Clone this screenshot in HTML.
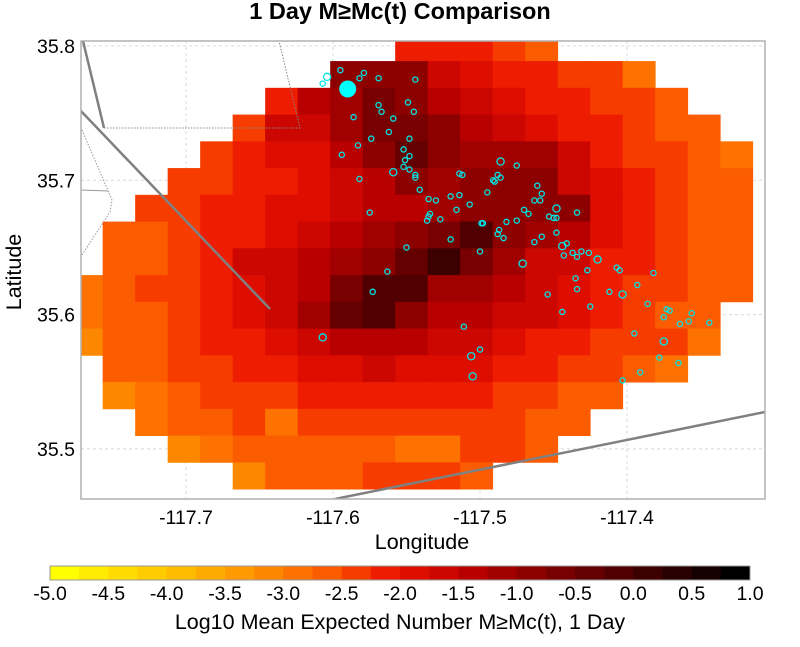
<!DOCTYPE html>
<html><head><meta charset="utf-8">
<style>
html,body{margin:0;padding:0;background:#fff;}
svg{display:block;font-family:"Liberation Sans",Arial,sans-serif;}
</style></head>
<body>
<svg id="chart" width="800" height="647" viewBox="0 0 800 647" xmlns="http://www.w3.org/2000/svg">
<defs><clipPath id="plotclip"><rect x="81" y="41" width="684" height="458"/></clipPath></defs>
<text x="400" y="19" text-anchor="middle" font-size="23.5" font-weight="bold">1 Day M≥Mc(t) Comparison</text>
<g id="grid"></g>
<g id="heat" clip-path="url(#plotclip)"></g>
<g id="faults" clip-path="url(#plotclip)">
<polyline points="83,41 104,128" fill="none" stroke="#808080" stroke-width="2.5"/>
<polyline points="104,128 300,128 279,41" fill="none" stroke="#888" stroke-width="1" stroke-dasharray="1.5,1.5"/>
<polyline points="80,110 270,309" fill="none" stroke="#808080" stroke-width="2.5"/>
<polyline points="80,190 108,191" fill="none" stroke="#999" stroke-width="1"/>
<polyline points="82,130 112,200 110,212 80,258" fill="none" stroke="#999" stroke-width="1" stroke-dasharray="1.5,1.5"/>
<polyline points="335,499 765,412" fill="none" stroke="#808080" stroke-width="2.5"/>
</g>
<g id="quakes" clip-path="url(#plotclip)"></g>
<rect x="81" y="41" width="684" height="458" fill="none" stroke="#b0b0b0" stroke-width="1.5"/>
<g id="axes"></g>
<text x="422" y="549" text-anchor="middle" font-size="21.5">Longitude</text>
<text transform="translate(21,272) rotate(-90)" text-anchor="middle" font-size="21.5">Latitude</text>
<g id="cbar"></g>
<text x="400" y="629" text-anchor="middle" font-size="21.5">Log10 Mean Expected Number M≥Mc(t), 1 Day</text>
</svg>
<script>
const xTicks = [-117.7, -117.6, -117.5, -117.4];
const yTicks = [35.5, 35.6, 35.7, 35.8];
const cbarTicks = [-5.0,-4.5,-4.0,-3.5,-3.0,-2.5,-2.0,-1.5,-1.0,-0.5,0.0,0.5,1.0];
const cbarColors = ["#ffff00","#ffec00","#ffdc00","#ffcc00","#ffbb00","#ffaa00","#ff9a00","#fd8800","#fd7200","#fb5c00","#f73c00","#ee1c00","#dd0d00","#cc0600","#b80000","#a00000","#8c0000","#780000","#640000","#500000","#3c0000","#280000","#140000","#000000"];
const cellLon0 = -117.7788, cellDLon = 0.02211, cellLat0 = 35.8087, cellDLat = 0.01992;
const rowStart = [10,8,6,5,4,3,2,1,1,0,0,0,1,1,2,3,5];
const row0 = [-2.15,-2.15,-2.15,-2.4,-2.65];
const row1 = [-0.9,-0.9,-0.9,-1.65,-1.9,-2.15,-2.15,-2.4,-2.4,-2.9];
const row2 = [-2.15,-1.4,-1.15,-0.65,-0.9,-1.4,-1.65,-1.9,-2.15,-2.15,-2.4,-2.4,-2.65];
const row3 = [-2.4,-1.65,-1.65,-1.15,-0.65,-0.65,-0.9,-1.4,-1.65,-1.9,-2.15,-2.15,-2.4,-2.65,-2.65];
const row4 = [-2.4,-2.15,-1.9,-1.9,-1.4,-0.9,-0.4,-0.9,-1.15,-1.15,-1.15,-1.65,-2.15,-2.4,-2.4,-2.65,-2.9];
const row5 = [-2.4,-2.4,-2.15,-2.15,-1.9,-1.65,-1.4,-0.9,-1.15,-0.9,-0.9,-0.9,-1.65,-1.9,-2.15,-2.4,-2.65,-2.65];
const row6 = [-2.4,-2.4,-2.15,-2.15,-1.9,-1.9,-1.65,-1.4,-1.4,-1.15,-0.9,-0.9,-0.9,-0.9,-1.9,-2.15,-2.4,-2.65,-2.65];
const row7 = [-2.65,-2.65,-2.4,-2.15,-2.15,-1.9,-1.65,-1.4,-1.15,-0.9,-0.65,-0.15,-0.9,-1.15,-1.4,-1.9,-2.15,-2.4,-2.65,-2.65];
const row8 = [-2.65,-2.65,-2.4,-2.15,-1.65,-1.65,-1.4,-1.15,-0.9,-0.4,0.1,-0.65,-1.15,-1.65,-1.65,-2.15,-2.15,-2.4,-2.65,-2.65];
const row9 = [-2.9,-2.65,-2.4,-2.4,-2.15,-1.9,-1.65,-1.4,-0.65,-0.15,-0.15,-1.15,-1.15,-1.4,-1.65,-1.9,-2.15,-2.4,-2.4,-2.65,-2.65];
const row10 = [-2.9,-2.65,-2.65,-2.4,-2.15,-1.9,-1.65,-1.15,-0.4,-0.15,-0.9,-1.4,-1.4,-1.65,-1.65,-1.9,-2.15,-2.4,-2.65,-2.65];
const row11 = [-3.15,-2.65,-2.65,-2.4,-2.15,-2.15,-1.9,-1.65,-1.4,-1.4,-1.4,-1.65,-1.65,-1.9,-2.15,-2.15,-2.4,-2.4,-2.4,-2.9];
const row12 = [-2.65,-2.65,-2.4,-2.4,-2.15,-2.15,-1.9,-1.9,-1.65,-1.9,-1.9,-1.9,-2.15,-2.15,-2.4,-2.4,-2.65,-2.9];
const row13 = [-3.15,-2.9,-2.65,-2.4,-2.4,-2.4,-2.15,-2.15,-2.15,-2.15,-2.15,-2.15,-2.4,-2.4,-2.65,-2.65];
const row14 = [-2.9,-2.65,-2.65,-2.4,-2.9,-2.4,-2.4,-2.4,-2.4,-2.4,-2.4,-2.4,-2.65,-2.65];
const row15 = [-3.15,-2.9,-2.65,-2.65,-2.65,-2.65,-2.65,-2.9,-2.9,-2.4,-2.4,-2.65];
const row16 = [-3.15,-2.65,-2.65,-2.65,-2.4,-2.4,-2.4,-2.65];
const gridRows = [row0,row1,row2,row3,row4,row5,row6,row7,row8,row9,row10,row11,row12,row13,row14,row15,row16];
const quakeLon = [-117.595,-117.579,-117.582,-117.569,-117.544,-117.604,-117.607,-117.569,-117.567,-117.549,-117.545,-117.586,-117.559,-117.562,-117.574,-117.548,-117.583,-117.594,-117.552,-117.551,-117.548,-117.552,-117.548,-117.559,-117.544,-117.544,-117.541,-117.582,-117.575,-117.550,-117.563,-117.486,-117.475,-117.514,-117.512,-117.491,-117.490,-117.488,-117.486,-117.495,-117.461,-117.458,-117.463,-117.459,-117.448,-117.434,-117.535,-117.530,-117.520,-117.514,-117.516,-117.507,-117.534,-117.535,-117.536,-117.527,-117.470,-117.467,-117.453,-117.450,-117.448,-117.499,-117.498,-117.482,-117.475,-117.487,-117.488,-117.484,-117.520,-117.500,-117.458,-117.463,-117.448,-117.444,-117.441,-117.443,-117.437,-117.434,-117.431,-117.426,-117.420,-117.471,-117.407,-117.405,-117.427,-117.382,-117.435,-117.434,-117.454,-117.412,-117.403,-117.393,-117.386,-117.425,-117.444,-117.373,-117.371,-117.375,-117.356,-117.358,-117.364,-117.344,-117.395,-117.375,-117.378,-117.365,-117.391,-117.403,-117.511,-117.500,-117.506,-117.505,-117.573,-117.607,-117.590];
const quakeLat = [35.782,35.780,35.776,35.776,35.775,35.777,35.772,35.756,35.751,35.758,35.751,35.747,35.746,35.736,35.731,35.731,35.726,35.719,35.723,35.715,35.718,35.710,35.708,35.706,35.704,35.702,35.693,35.701,35.676,35.650,35.632,35.714,35.711,35.705,35.704,35.700,35.699,35.704,35.702,35.691,35.696,35.690,35.685,35.685,35.679,35.676,35.686,35.685,35.688,35.689,35.678,35.682,35.675,35.673,35.670,35.671,35.678,35.675,35.673,35.672,35.672,35.668,35.668,35.669,35.670,35.663,35.660,35.657,35.656,35.647,35.658,35.654,35.661,35.651,35.653,35.644,35.646,35.643,35.647,35.646,35.641,35.638,35.635,35.633,35.633,35.631,35.627,35.619,35.615,35.617,35.615,35.622,35.608,35.606,35.602,35.604,35.603,35.598,35.601,35.595,35.593,35.594,35.586,35.580,35.568,35.564,35.557,35.551,35.591,35.574,35.569,35.554,35.617,35.583,35.768];
const quakeMag = [2.6,2.7,2.6,2.6,2.6,3.0,2.7,2.7,2.6,2.6,2.5,2.6,2.7,2.7,2.7,2.6,2.6,2.6,2.5,2.6,2.6,2.6,2.6,3.0,2.7,2.7,2.7,2.5,2.6,2.6,2.6,3.1,2.5,2.7,2.6,2.7,2.6,2.6,2.6,2.7,2.6,2.5,2.7,2.7,3.0,2.5,2.7,2.6,2.6,2.6,2.6,2.7,2.7,2.6,2.6,2.7,2.6,2.7,2.6,2.6,2.6,2.7,2.6,2.6,2.6,2.6,2.6,2.6,2.6,2.6,2.6,2.5,2.6,3.0,2.6,2.6,2.6,2.5,2.6,2.6,3.1,3.1,2.6,2.6,2.5,2.6,2.6,2.5,2.6,2.5,3.0,2.6,2.6,2.6,2.6,2.7,2.7,2.6,2.6,2.6,2.6,2.6,2.6,3.1,2.6,2.6,2.6,2.5,2.5,2.6,3.1,3.1,2.6,3.1,5.0];

const NS = "http://www.w3.org/2000/svg";
const PX0 = 81, PX1 = 765, PY0 = 41, PY1 = 499;
function xScale(lon){ return 333 + (lon + 117.6) * 1470; }
function yScale(lat){ return 46 + (35.8 - lat) * 1343; }
function cbarX(v){ return 50 + (v + 5) / 6 * 700; }
function colorFor(v){ let i = Math.floor((v + 5) / 0.25); i = Math.max(0, Math.min(cbarColors.length - 1, i)); return cbarColors[i]; }
function mk(tag, attrs, parent){ const e = document.createElementNS(NS, tag); for (const k in attrs) e.setAttribute(k, attrs[k]); parent.appendChild(e); return e; }

const grid = document.getElementById('grid');
xTicks.forEach(t => { const l = mk('line', {x1:xScale(t), x2:xScale(t), y1:PY0, y2:PY1, stroke:'#d8d8d8', 'stroke-dasharray':'3,3'}, grid);
  
   });
yTicks.forEach(t => { const l = mk('line', {x1:PX0, x2:PX1, y1:yScale(t), y2:yScale(t), stroke:'#d8d8d8', 'stroke-dasharray':'3,3'}, grid);
  
   });

const heat = document.getElementById('heat');
gridRows.forEach((row, r) => {
  row.forEach((v, k) => {
    if (v === null) return;
    const c = rowStart[r] + k;
    const lonA = cellLon0 + c * cellDLon, lonB = lonA + cellDLon;
    const latA = cellLat0 - r * cellDLat, latB = latA - cellDLat;
    const x = xScale(lonA), y = yScale(latA);
    const rect = mk('rect', {x:x, y:y, width:xScale(lonB) - x + 0.4, height:yScale(latB) - y + 0.4, fill:colorFor(v)}, heat);
    
    
  });
});

const quakes = document.getElementById('quakes');
quakeLon.forEach((lon, i) => {
  const m = quakeMag[i];
  const big = m >= 4;
  const rad = big ? 8.5 : (m >= 3 ? 3.6 : 2.6);
  const c = mk('circle', {cx:xScale(lon), cy:yScale(quakeLat[i]), r:rad, fill: big ? '#00ffff' : 'none', stroke:'#00e5e5', 'stroke-width': big ? 0 : 1.3}, quakes);
  
  
});

const axes = document.getElementById('axes');
xTicks.forEach(t => { const tx = mk('text', {x:xScale(t), y:524, 'text-anchor':'middle', 'font-size':19.5}, axes); tx.textContent = t.toFixed(1);
  
   });
yTicks.forEach(t => { const ty = mk('text', {x:75, y:yScale(t) + 7, 'text-anchor':'end', 'font-size':19.5}, axes); ty.textContent = t.toFixed(1);
  
   });

const cbar = document.getElementById('cbar');
cbarColors.forEach((col, i) => {
  const v0 = -5 + i * 0.25;
  const r = mk('rect', {x:cbarX(v0), y:566, width:cbarX(v0 + 0.25) - cbarX(v0) + 0.3, height:14, fill:col}, cbar);
  
  
});
const cf = mk('rect', {x:50, y:566, width:700, height:14, fill:'none', stroke:'#999', 'stroke-width':1}, cbar);


cbarTicks.forEach(t => { const tl = mk('text', {x:cbarX(t), y:600, 'text-anchor':'middle', 'font-size':19.5}, cbar); tl.textContent = t.toFixed(1);
  
   });
</script>
</body></html>
